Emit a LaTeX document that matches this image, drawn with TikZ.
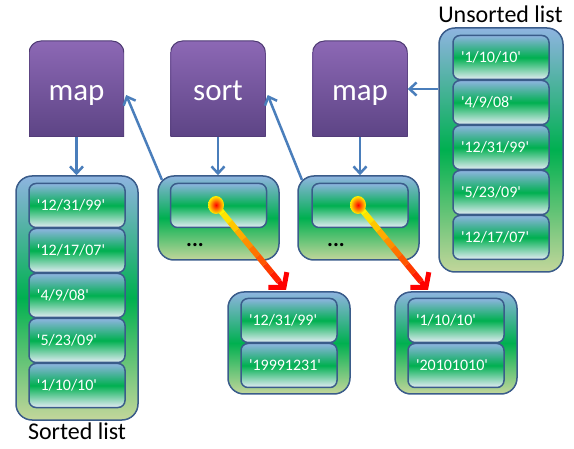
\documentclass[tikz,border=0pt]{standalone}
\usepackage{fontspec}
\setmainfont{Carlito}
\usepackage{tikz}
\usetikzlibrary{arrows.meta,calc,shapes.geometric}
\definecolor{fntop}{HTML}{8C68B5}
\definecolor{fnbot}{HTML}{5D4485}
\definecolor{fnline}{HTML}{4E3A73}
\definecolor{flow}{HTML}{4A7EBB}
\definecolor{frame}{HTML}{3A5C8A}
\definecolor{sky}{HTML}{8EB4E0}
\definecolor{leaf}{HTML}{00B050}
\definecolor{hay}{HTML}{C3D69B}
\definecolor{mist}{HTML}{E4ECF5}
\newcommand{\q}[1]{\textquotesingle#1\textquotesingle}

\begin{document}
\begin{tikzpicture}[x=1pt,y=1pt,>={Straight Barb[length=7pt,width=13pt]}]
            \tikzstyle{fn}=[minimum width=95pt,minimum height=96pt,text=white,font=\fontsize{31}{31}\selectfont,
                text height=30pt,text depth=6pt,
                path picture={\shade[top color=fntop,bottom color=fnbot,draw=fnline,line width=1pt]
                    (path picture bounding box.south west) -- ([yshift=-12pt]path picture bounding box.north west)
                    arc[start angle=180,end angle=90,radius=12pt] -- ([xshift=-12pt]path picture bounding box.north east)
                    arc[start angle=90,end angle=0,radius=12pt] -- (path picture bounding box.south east) -- cycle;}]
            \tikzstyle{list}=[draw=frame,line width=1.5pt,rounded corners=16pt,top color=sky,bottom color=hay,middle color=leaf]
            \tikzstyle{item}=[draw=frame,line width=1.5pt,rounded corners=7pt,top color=sky,bottom color=mist,middle color=leaf,
                minimum width=96pt,minimum height=44pt,text width=80pt,inner xsep=8pt,align=left,text=white,font=\fontsize{16}{16}\selectfont]
            \tikzstyle{flowline}=[->,draw=flow,line width=2.5pt]
            \tikzstyle{ball}=[ellipse,minimum width=16pt,minimum height=18pt,inner sep=0pt,inner color=red,outer color=yellow!90!orange]
            \tikzstyle{caption}=[font=\fontsize{24}{24}\selectfont,anchor=base]
            \tikzstyle{more}=[font=\bfseries\fontsize{22}{22}\selectfont]

            \useasboundingbox (0,0) rectangle (574,448);

            \node[fn] (map1) at (76.5,359) {map};
            \node[fn] (sort) at (218,359) {sort};
            \node[fn] (map2) at (360,359) {map};

            % unsorted input
            \node[list,minimum width=124pt,minimum height=244pt] (unsorted) at (501,298) {};
            \foreach \d [count=\i] in {1/10/10,4/9/08,12/31/99,5/23/09,12/17/07}
                \node[item] (u\i) at (501,{435.5-45*\i}) {\q{\d}};
            \node[caption] (ulabel) at (500.5,425) {Unsorted list};

            % sorted output
            \node[list,minimum width=122pt,minimum height=244pt] (sorted) at (77,150) {};
            \foreach \d [count=\i] in {12/31/99,12/17/07,4/9/08,5/23/09,1/10/10}
                \node[item] (s\i) at (77,{287.5-45*\i}) {\q{\d}};
            \node[caption] (slabel) at (77,9) {Sorted list};

            % pairs
            \node[list,minimum width=121pt,minimum height=84pt] (pairL) at (218.5,230) {};
            \node[item] (pL) at (218.5,242.5) {};
            \node[more] (dotsL) at (195,203) {...};
            \node[list,minimum width=121pt,minimum height=84pt] (pairR) at (358.5,230) {};
            \node[item] (pR) at (360,242.5) {};
            \node[more] (dotsR) at (336,203) {...};

            % one pair each
            \node[list,minimum width=122pt,minimum height=102pt] (resA) at (289,105) {};
            \node[item] (a1) at (289,127.5) {\q{12/31/99}};
            \node[item] (a2) at (289,82.5) {\q{19991231}};
            \node[list,minimum width=122pt,minimum height=102pt] (resB) at (456,105) {};
            \node[item] (b1) at (456,127.5) {\q{1/10/10}};
            \node[item] (b2) at (456,82.5) {\q{20101010}};

            \draw[flowline] (map1.south) -- (map1.south |- sorted.north);
            \draw[flowline] (sort.south) -- (sort.south |- pairL.north);
            \draw[flowline] (map2.south) -- (map2.south |- pairR.north);
            \draw[flowline] (unsorted.west |- map2.east) -- (map2.east);
            \draw[flowline] ([shift={(4.7pt,-4.7pt)}]pairL.north west) -- ([shift={(2pt,-6pt)}]map1.east);
            \draw[flowline] ([shift={(4.7pt,-4.7pt)}]pairR.north west) -- ([shift={(2pt,-6pt)}]sort.east);

            \coordinate (hitL) at (216,243);
            \coordinate (hitR) at (358,243);
            \coordinate (tipL) at (286,158);
            \coordinate (tipR) at (428,158);
            \foreach \src/\dst in {hitL/tipL,hitR/tipR}{
                \foreach \k in {0,...,8}{
                    \pgfmathsetmacro\p{\k*11}
                    \pgfmathsetmacro\s{\k/10}
                    \pgfmathsetmacro\e{(\k+1)/10}
                    \draw[line width=6pt,red!\p!yellow] ($(\src)!\s!(\dst)$) -- ($(\src)!\e!(\dst)$);
                }
                \draw[line width=5pt,red,-{Straight Barb[length=10pt,width=24pt]}] ($(\src)!0.9!(\dst)$) -- (\dst);
            }
            \node[ball] (dotL) at (hitL) {};
            \node[ball] (dotR) at (hitR) {};
        \end{tikzpicture}
\end{document}
